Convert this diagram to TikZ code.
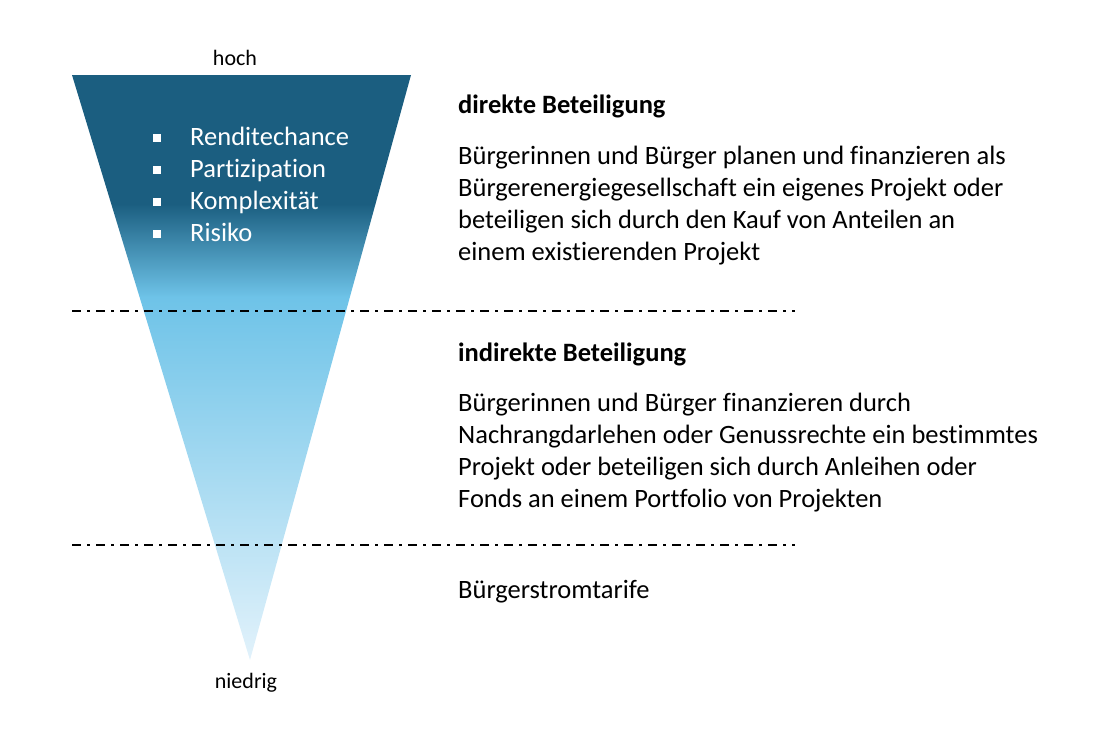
\documentclass[tikz,border=0pt]{standalone}
\usepackage{fontspec}
\setmainfont[RawFeature=-liga]{Carlito}
\definecolor{deepblue}{HTML}{1B5E80}
\definecolor{midblue}{HTML}{6EC3E8}
\definecolor{paleblue}{HTML}{E2F2FB}
\pgfdeclareverticalshading{funnel}{100bp}{color(0bp)=(paleblue); color(25bp)=(paleblue);
  color(50bp)=(midblue!85!white); color(56bp)=(midblue); color(64bp)=(deepblue); color(75bp)=(deepblue); color(100bp)=(deepblue)}
\tikzset{
  divider/.style = {line width=1.6pt, dash pattern=on 9pt off 6pt on 3pt off 6pt},
  bodytext/.style = {anchor=base west, align=left, font=\fontsize{26.5}{32}\selectfont, inner sep=0pt},
  endlabel/.style = {anchor=base, font=\fontsize{22}{24}\selectfont, inner sep=0pt}
}
\newcommand{\bulletsq}{\rule[3pt]{8pt}{8pt}}
\begin{document}
\begin{tikzpicture}[x=1pt,y=-1pt]
  \useasboundingbox (0,0) rectangle (1100,740);
  % funnel
  \shade[shading=funnel] (72,75) -- (411,75) -- (250,660) -- cycle;
  \node[endlabel] (high) at (235,65) {hoch};
  \node[endlabel] (low) at (246,688) {niedrig};
  % bullets
  \foreach \txt [count=\i] in {Renditechance, Partizipation, Komplexität, Risiko}
    \node[bodytext, text=white] (b\i) at (153,145+32*\i-32) {\bulletsq\hspace{29pt}\txt};
  % dividers
  \draw[divider] (72,311) -- (795,311);
  \draw[divider] (72,545) -- (795,545);
  % texts
  \node[bodytext] (direct) at (458,113) {\textbf{direkte Beteiligung}};
  \node[bodytext, anchor=north west] (directtxt) at (458,146) {Bürgerinnen und Bürger planen und finanzieren als\\Bürgerenergiegesellschaft ein eigenes Projekt oder\\beteiligen sich durch den Kauf von Anteilen an\\einem existierenden Projekt};
  \node[bodytext] (indirect) at (458,361) {\textbf{indirekte Beteiligung}};
  \node[bodytext, anchor=north west] (indirecttxt) at (458,393) {Bürgerinnen und Bürger finanzieren durch\\Nachrangdarlehen oder Genussrechte ein bestimmtes\\Projekt oder beteiligen sich durch Anleihen oder\\Fonds an einem Portfolio von Projekten};
  \node[bodytext] (tariff) at (458,598) {Bürgerstromtarife};
\end{tikzpicture}
\end{document}
